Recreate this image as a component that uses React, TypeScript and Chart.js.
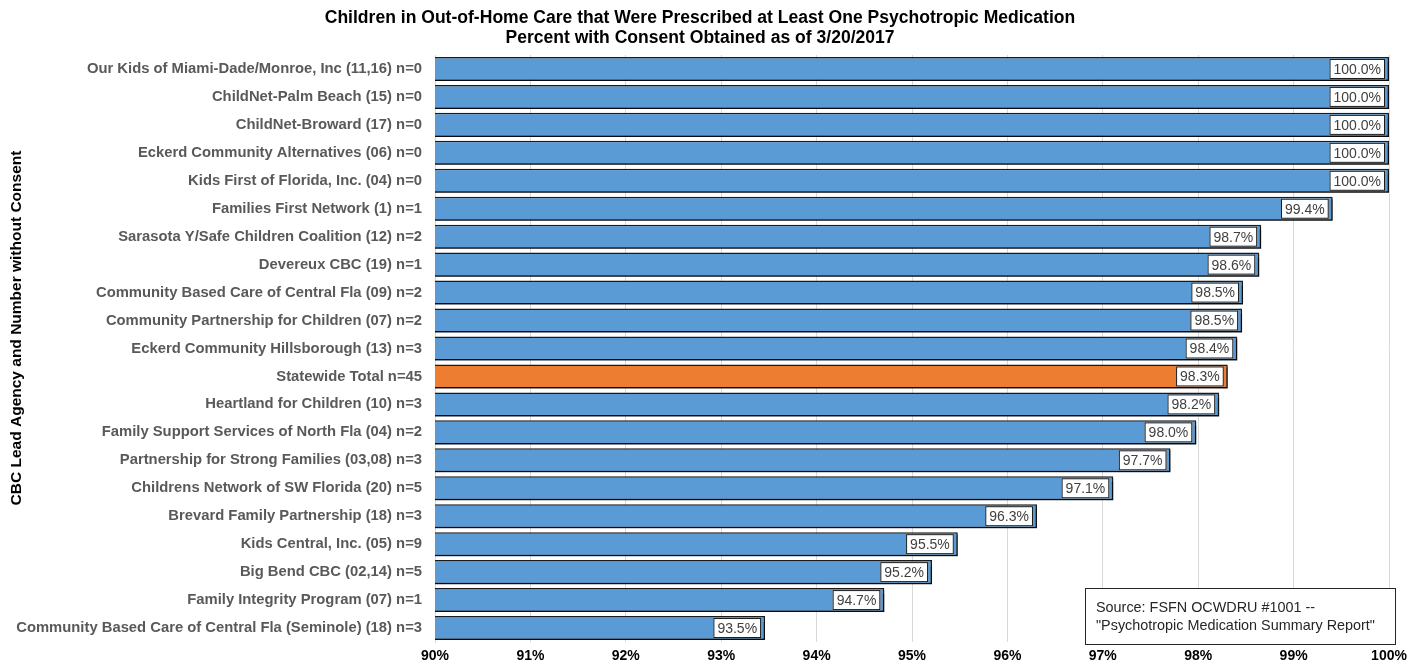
import React, { useEffect, useRef } from "react";
import { Chart, registerables } from "chart.js";

Chart.register(...registerables);

const categories = [
  "Our Kids of Miami-Dade/Monroe, Inc (11,16) n=0",
  "ChildNet-Palm Beach (15) n=0",
  "ChildNet-Broward (17) n=0",
  "Eckerd Community Alternatives (06) n=0",
  "Kids First of Florida, Inc. (04) n=0",
  "Families First Network (1) n=1",
  "Sarasota Y/Safe Children Coalition (12) n=2",
  "Devereux CBC (19) n=1",
  "Community Based Care of Central Fla (09) n=2",
  "Community Partnership for Children (07) n=2",
  "Eckerd Community Hillsborough (13) n=3",
  "Statewide Total n=45",
  "Heartland for Children (10) n=3",
  "Family Support Services of North Fla (04) n=2",
  "Partnership for Strong Families (03,08) n=3",
  "Childrens Network of SW Florida (20) n=5",
  "Brevard Family Partnership (18) n=3",
  "Kids Central, Inc. (05) n=9",
  "Big Bend CBC (02,14) n=5",
  "Family Integrity Program (07) n=1",
  "Community Based Care of Central Fla (Seminole) (18) n=3",
];

const percentValues = [
  100, 100, 100, 100, 100, 99.41, 98.66, 98.64, 98.47, 98.46, 98.41, 98.31,
  98.22, 97.98, 97.71, 97.11, 96.31, 95.48, 95.21, 94.71, 93.46,
];

const valueLabels = [
  "100.0%", "100.0%", "100.0%", "100.0%", "100.0%", "99.4%", "98.7%", "98.6%",
  "98.5%", "98.5%", "98.4%", "98.3%", "98.2%", "98.0%", "97.7%", "97.1%",
  "96.3%", "95.5%", "95.2%", "94.7%", "93.5%",
];

const highlightCategory = "Statewide Total n=45";

const titleLines = [
  "Children in Out-of-Home Care that Were Prescribed at Least One Psychotropic Medication",
  "Percent with Consent Obtained as of 3/20/2017",
];
const yAxisTitle = "CBC Lead Agency and Number without Consent";
const sourceLines = [
  "Source: FSFN OCWDRU #1001 --",
  "\"Psychotropic Medication Summary Report\"",
];

const BLUE = "#5b9bd5";
const ORANGE = "#ed7d31";
const FONT = "Arial, 'Liberation Sans', sans-serif";

export default function App() {
  const canvasRef = useRef<HTMLCanvasElement | null>(null);

  useEffect(() => {
    const canvas = canvasRef.current;
    if (!canvas) return;

    const shadowPlugin = {
      id: "barShadow",
      beforeDatasetsDraw(chart: any) {
        const ctx = chart.ctx;
        ctx.save();
        ctx.shadowColor = "rgba(0,0,0,0.55)";
        ctx.shadowOffsetX = 2;
        ctx.shadowOffsetY = 2;
        ctx.shadowBlur = 1;
      },
      afterDatasetsDraw(chart: any) {
        chart.ctx.restore();
      },
    };

    const labelsPlugin = {
      id: "valueLabels",
      afterDatasetsDraw(chart: any) {
        const ctx = chart.ctx;
        const meta = chart.getDatasetMeta(0);
        ctx.save();
        ctx.font = `14px ${FONT}`;
        ctx.textBaseline = "middle";
        ctx.textAlign = "center";
        meta.data.forEach((bar: any, i: number) => {
          const text = valueLabels[i];
          const tw = ctx.measureText(text).width;
          const w = tw + 8;
          const h = 20;
          const right = bar.x - 4;
          const left = right - w;
          const top = bar.y - h / 2;
          ctx.fillStyle = "#ffffff";
          ctx.fillRect(left, top, w, h);
          ctx.strokeStyle = "#1a1a1a";
          ctx.lineWidth = 1;
          ctx.strokeRect(left + 0.5, top + 0.5, w - 1, h - 1);
          ctx.fillStyle = "#404040";
          ctx.fillText(text, left + w / 2, bar.y + 1);
        });
        ctx.restore();
      },
    };

    const decorPlugin = {
      id: "decor",
      afterDraw(chart: any) {
        const ctx = chart.ctx;
        ctx.save();
        // title
        ctx.fillStyle = "#000000";
        ctx.textAlign = "center";
        ctx.textBaseline = "middle";
        ctx.font = `bold 18px ${FONT}`;
        ctx.save();
        ctx.translate(700, 0);
        ctx.scale(0.975, 1);
        ctx.fillText(titleLines[0], 0, 18);
        ctx.fillText(titleLines[1], 0, 38);
        ctx.restore();
        // y axis title
        ctx.save();
        ctx.translate(17, 328);
        ctx.rotate(-Math.PI / 2);
        ctx.font = `bold 15.5px ${FONT}`;
        ctx.fillText(yAxisTitle, 0, 0);
        ctx.restore();
        // source box
        const bx = 1085, by = 588, bw = 311, bh = 57;
        ctx.fillStyle = "#ffffff";
        ctx.fillRect(bx, by, bw, bh);
        ctx.strokeStyle = "#262626";
        ctx.lineWidth = 1;
        ctx.strokeRect(bx + 0.5, by + 0.5, bw - 1, bh - 1);
        ctx.fillStyle = "#262626";
        ctx.textAlign = "left";
        ctx.font = `14.4px ${FONT}`;
        ctx.fillText(sourceLines[0], 1096, 608);
        ctx.fillText(sourceLines[1], 1096, 626);
        ctx.restore();
      },
    };

    const chart = new Chart(canvas, {
      type: "bar",
      data: {
        labels: categories,
        datasets: [
          {
            data: percentValues,
            backgroundColor: categories.map((c) => (c === highlightCategory ? ORANGE : BLUE)),
            borderColor: "#1a1a1a",
            borderWidth: 1.5,
            borderSkipped: false,
            barPercentage: 0.86,
            categoryPercentage: 1,
          },
        ],
      },
      options: {
        indexAxis: "y",
        responsive: false,
        animation: false,
        maintainAspectRatio: false,
        layout: { padding: { top: 55, right: 30, left: 0, bottom: 0 } },
        plugins: {
          legend: { display: false },
          title: { display: false },
          tooltip: { enabled: false },
        },
        scales: {
          x: {
            min: 90,
            max: 100,
            ticks: {
              stepSize: 1,
              color: "#000000",
              font: { family: FONT, size: 14, weight: "bold" },
              callback: (v: any) => `${v}%`,
              padding: 6,
            },
            grid: { color: "#d9d9d9", drawTicks: false },
            border: { display: false },
            afterFit: (scale: any) => {
              scale.height = 27;
            },
          },
          y: {
            ticks: {
              color: "#595959",
              font: { family: FONT, size: 14.8, weight: "bold" },
              padding: 13,
              autoSkip: false,
            },
            grid: { display: false, drawTicks: false },
            border: { display: true, color: "#d9d9d9" },
            afterFit: (scale: any) => {
              scale.width = 435;
            },
          },
        },
      },
      plugins: [shadowPlugin, labelsPlugin, decorPlugin],
    });

    return () => chart.destroy();
  }, []);

  return (
    <div style={{ position: "fixed", left: 0, top: 0, width: 1419, height: 669, background: "#ffffff" }}>
      <canvas ref={canvasRef} width={1419} height={669} style={{ display: "block" }} />
    </div>
  );
}
